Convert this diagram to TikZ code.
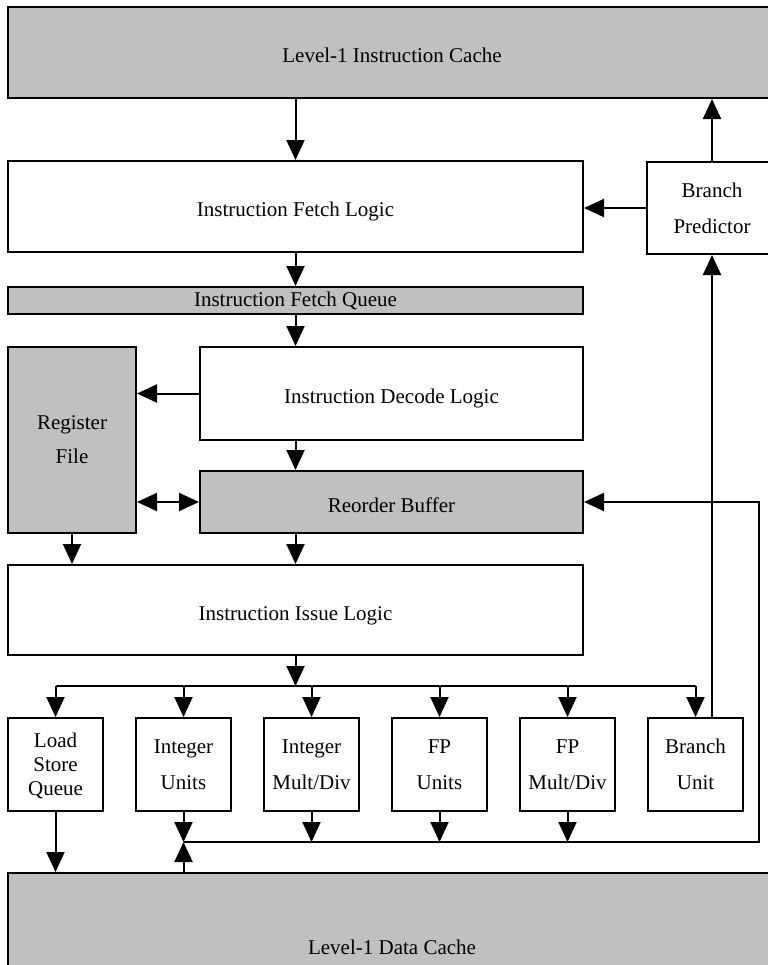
\documentclass[tikz,border=0pt]{standalone}
\usepackage{fontspec}
\setmainfont{Liberation Serif}
\usepackage{xcolor}
\usepackage{tikz}
\usetikzlibrary{arrows.meta}
\definecolor{blockgray}{HTML}{C0C0C0}
\tikzset{
	blk/.style={draw, line width=1.5pt, inner sep=0pt, align=center},
	grayblk/.style={blk, fill=blockgray},
	lowtext/.style={text height=15.5pt, text depth=0pt},
	unitblk/.style={blk, minimum width=71.25pt, minimum height=69.75pt, text depth=0pt},
	wideblk/.style={minimum width=431.25pt}
}

\begin{document}
\begin{tikzpicture}[x=0.75pt, y=-0.75pt, line width=1.5pt, >={Triangle[length=15pt, width=13.5pt]}, font=\fontsize{15.75}{18}\selectfont]
	\useasboundingbox (0,0) rectangle (768,965);
	\clip (0,0) rectangle (768,965);
	\node[grayblk, lowtext, minimum width=576pt, minimum height=68.25pt] (icache) at (392,52.5) {Level-1 Instruction Cache};
	\node[blk, lowtext, wideblk, minimum height=68.25pt] (fetch) at (295.5,206.5) {Instruction Fetch Logic};
	\node[blk, minimum width=97.5pt, minimum height=69pt, text depth=0pt] (bpred) at (712,208) {Branch\\[9pt]Predictor};
	\node[grayblk, wideblk, minimum height=20.25pt] (fq) at (295.5,300.5) {Instruction Fetch Queue};
	\node[blk, lowtext, minimum width=287.25pt, minimum height=69.75pt] (decode) at (391.5,393.5) {Instruction Decode Logic};
	\node[grayblk, minimum width=96pt, minimum height=139.5pt, text depth=0pt] (regfile) at (72,440) {Register\\[7.5pt]File};
	\node[grayblk, lowtext, minimum width=287.25pt, minimum height=46.5pt] (rob) at (391.5,502) {Reorder Buffer};
	\node[blk, lowtext, wideblk, minimum height=67.5pt] (issue) at (295.5,610) {Instruction Issue Logic};
	\node[unitblk] (lsq) at (55.5,764.5) {Load\\Store\\Queue};
	\node[unitblk] (intu) at (183.5,764.5) {Integer\\[9pt]Units};
	\node[unitblk] (imul) at (311.5,764.5) {Integer\\[9pt]Mult/Div};
	\node[unitblk] (fpu) at (439.5,764.5) {FP\\[9pt]Units};
	\node[unitblk] (fmul) at (567.5,764.5) {FP\\[9pt]Mult/Div};
	\node[unitblk] (bru) at (695.5,764.5) {Branch\\[9pt]Unit};
	\node[grayblk, minimum width=576pt, minimum height=111pt] (dcache) at (392,947) {Level-1 Data Cache};
	\coordinate (ibus) at (295.5,686);
	\coordinate (rbus) at (759,842);

	\draw[->] (fetch.north |- icache.south) -- (fetch.north);
	\draw[->] (bpred.north) -- (bpred.north |- icache.south);
	\draw[->] (bpred.west) -- (fetch.east |- bpred.west);
	\draw[->] (fetch.south) -- (fq.north);
	\draw[->] (fq.south) -- (fq.south |- decode.north);
	\draw[->] (decode.west) -- (regfile.east |- decode.west);
	\draw[->] (fq.south |- decode.south) -- (fq.south |- rob.north);
	\draw[<->] (regfile.east |- rob.west) -- (rob.west);
	\draw[->] (regfile.south) -- (regfile.south |- issue.north);
	\draw[->] (fq.south |- rob.south) -- (fq.south |- issue.north);
	\draw[->] (issue.south) -- (ibus);
	\draw (lsq.north |- ibus) -- (bru.north |- ibus);
	\foreach \u in {lsq, intu, imul, fpu, fmul, bru}
		\draw[->] (\u.north |- ibus) -- (\u.north);
	\draw[->] (bpred.south |- bru.north) -- (bpred.south);
	\foreach \u in {intu, imul, fpu, fmul}
		\draw[->] (\u.south) -- (\u.south |- rbus);
	\draw[->] (intu.south |- rbus) -- (rbus) -- (rbus |- rob.east) -- (rob.east);
	\draw[->] (lsq.south) -- (lsq.south |- dcache.north);
	\draw[->] (intu.south |- dcache.north) -- (intu.south |- rbus);
\end{tikzpicture}
\end{document}
